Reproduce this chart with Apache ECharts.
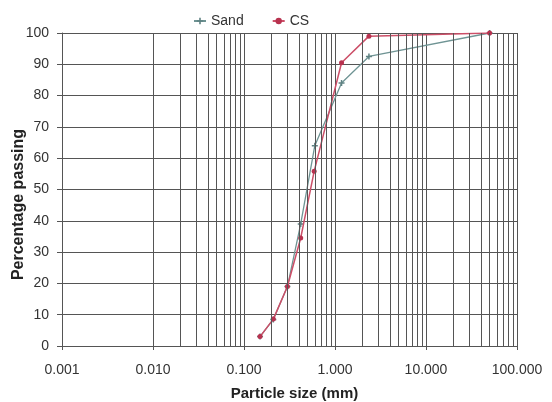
<!DOCTYPE html>
<html><head><meta charset="utf-8">
<script src="https://cdn.jsdelivr.net/npm/echarts@6/dist/echarts.min.js"></script>
<style>html,body{margin:0;padding:0;background:#fff}#c{width:552px;height:402px}</style>
</head><body><div id="c"></div>
<script>
// Particle size (mm) and percentage passing
const sandSize = [0.15, 0.21, 0.30, 0.42, 0.60, 1.18, 2.36, 50];
const sandPass = [3, 8.5, 19, 39, 64, 84, 92.5, 100];
const csSize = [0.15, 0.21, 0.30, 0.42, 0.59, 1.18, 2.36, 50];
const csPass = [3, 8.6, 19, 34.5, 55.8, 90.5, 99, 100];
const yTicks = [0, 10, 20, 30, 40, 50, 60, 70, 80, 90, 100];
const decades = [0.001, 0.01, 0.1, 1, 10];
const minorMult = [2, 3, 4, 5, 6, 7, 8, 9];

const minorLines = [];
decades.forEach(d => minorMult.forEach(m => minorLines.push({ xAxis: +(d * m).toPrecision(3) })));

const chart = echarts.init(document.getElementById('c'), null, { renderer: 'canvas' });
const gridColor = '#555';
const font = 'Liberation Sans, Arial, sans-serif';
chart.setOption({
  animation: false,
  backgroundColor: '#fff',
  textStyle: { fontFamily: font },
  legend: {
    top: 9, left: 188,
    itemGap: 28, itemWidth: 12, itemHeight: 8,
    textStyle: { fontSize: 14, color: '#333', fontFamily: font },
    data: ['Sand', 'CS']
  },
  grid: { left: 62, right: 35, top: 33, bottom: 56, containLabel: false, outerBoundsMode: 'none' },
  xAxis: {
    type: 'log', logBase: 10, min: 0.001, max: 100,
    name: 'Particle size (mm)', nameLocation: 'middle', nameGap: 40, nameMoveOverlap: false,
    nameTextStyle: { fontSize: 15, fontWeight: 'bold', color: '#222', fontFamily: font, padding: [0, 0, 0, 10] },
    axisLine: { lineStyle: { color: gridColor } },
    axisTick: { show: true, length: 4, lineStyle: { color: gridColor } },
    axisLabel: { fontSize: 14, color: '#333', margin: 17, fontFamily: font, formatter: v => Number(v).toFixed(3) },
    splitLine: { show: true, lineStyle: { color: gridColor, width: 1 } }
  },
  yAxis: {
    type: 'value', min: 0, max: 100, interval: 10,
    name: 'Percentage passing', nameLocation: 'middle', nameGap: 35, nameMoveOverlap: false,
    nameTextStyle: { fontSize: 16, fontWeight: 'bold', color: '#222', fontFamily: font, padding: [0, 30, 0, 0] },
    axisLine: { show: true, lineStyle: { color: gridColor } },
    axisTick: { show: true, length: 5, lineStyle: { color: gridColor } },
    axisLabel: { fontSize: 14, color: '#333', margin: 13, fontFamily: font },
    splitLine: { show: true, lineStyle: { color: gridColor, width: 1 } }
  },
  series: [
    {
      name: 'Sand', type: 'line',
      data: sandSize.map((s, i) => [s, sandPass[i]]),
      symbol: 'path://M3,0H5V3H8V5H5V8H3V5H0V3H3Z', symbolSize: 6,
      lineStyle: { color: '#6f9494', width: 1.3 },
      itemStyle: { color: '#5f8283' },
      z: 3,
      markLine: {
        silent: true, symbol: 'none', label: { show: false },
        lineStyle: { color: gridColor, width: 1, type: 'solid', opacity: 1 },
        emphasis: { disabled: true },
        data: minorLines
      }
    },
    {
      name: 'CS', type: 'line',
      data: csSize.map((s, i) => [s, csPass[i]]),
      symbol: 'circle', symbolSize: 5,
      lineStyle: { color: '#cc4f68', width: 1.5 },
      itemStyle: { color: '#b8324f' },
      z: 4
    }
  ]
});
</script></body></html>
